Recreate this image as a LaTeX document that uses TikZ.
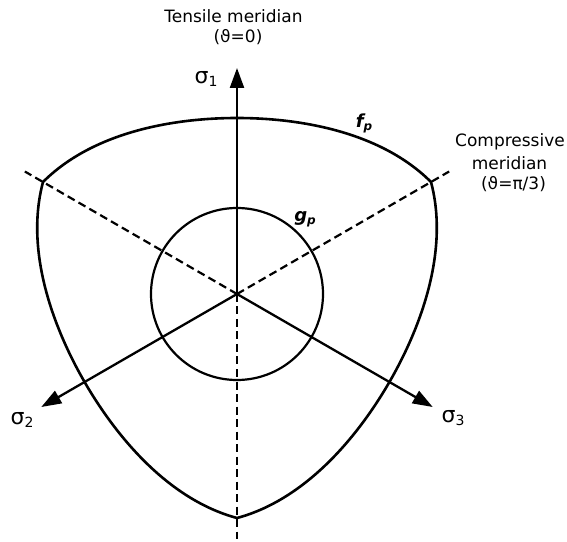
\documentclass[tikz,border=0pt]{standalone}
\usepackage{fontspec}
\setmainfont{DejaVu Sans}
\usetikzlibrary{arrows.meta,calc}
\begin{document}
\begin{tikzpicture}[x=1pt,y=1pt,
  curve/.style={line width=2.6pt,line join=miter},
  axis/.style={line width=2.3pt,-{Triangle[length=20pt,width=14pt]}},
  meridian/.style={line width=2.2pt,dash pattern=on 8pt off 4.5pt},
  txt/.style={font=\fontsize{17}{20}\selectfont,inner sep=0pt,anchor=base},
  sig/.style={inner sep=0pt},
  flab/.style={inner sep=0pt}]
\useasboundingbox (0,0) rectangle (567,541);
\coordinate (O) at (237,247);
\coordinate (A1) at ($(O)+(90:226)$);
\coordinate (A2) at ($(O)+(210:226)$);
\coordinate (A3) at ($(O)+(330:226)$);
\coordinate (D1) at ($(O)+(150:245)$);
\coordinate (D2) at ($(O)+(30:245)$);
\coordinate (D3) at ($(O)+(270:245)$);
% yield surface f_p
\draw[curve,shift={(O)}] (30:224)
  .. controls (48.18:216.7) and (69.73:187.6) .. (90:176)
  .. controls (110.27:187.6) and (131.82:216.7) .. (150:224)
  .. controls (168.18:216.7) and (189.73:187.6) .. (210:176)
  .. controls (230.27:187.6) and (251.82:216.7) .. (270:224)
  .. controls (288.18:216.7) and (309.73:187.6) .. (330:176)
  .. controls (350.27:187.6) and (371.82:216.7) .. (390:224) -- cycle;
% plastic potential g_p
\node[circle,draw,line width=2.2pt,minimum size=172pt,inner sep=0pt] (g) at (O) {};
% compressive meridians
\draw[meridian] (O) -- (D1);
\draw[meridian] (O) -- (D2);
\draw[meridian] (O) -- (D3);
% axes
\draw[axis] (O) -- (A1);
\draw[axis] (O) -- (A2);
\draw[axis] (O) -- (A3);
% labels
\node[sig] (l1) at (206,462) {{\fontsize{22}{22}\selectfont σ}{\fontsize{14}{14}\selectfont\raisebox{-3pt}{1}}};
\node[sig] (l2) at (22,121) {{\fontsize{22}{22}\selectfont σ}{\fontsize{14}{14}\selectfont\raisebox{-3pt}{2}}};
\node[sig] (l3) at (453,123) {{\fontsize{22}{22}\selectfont σ}{\fontsize{14}{14}\selectfont\raisebox{-3pt}{3}}};
\node[flab] (fp) at (364,418) {\bfseries\itshape{\fontsize{18}{18}\selectfont f}{\fontsize{12}{12}\selectfont\raisebox{-3pt}{p}}};
\node[flab] (gp) at (305,322) {\bfseries\itshape{\fontsize{18}{18}\selectfont g}{\fontsize{12}{12}\selectfont\raisebox{-3pt}{p}}};
\node[txt] (t1) at (233.5,518) {Tensile meridian};
\node[txt] (t2) at (238,498.5) {(ϑ=0)};
\node[txt] (c1) at (510,394) {Compressive};
\node[txt] (c2) at (509.5,371) {meridian};
\node[txt] (c3) at (513.5,351) {(ϑ=π/3)};
\end{tikzpicture}
\end{document}
